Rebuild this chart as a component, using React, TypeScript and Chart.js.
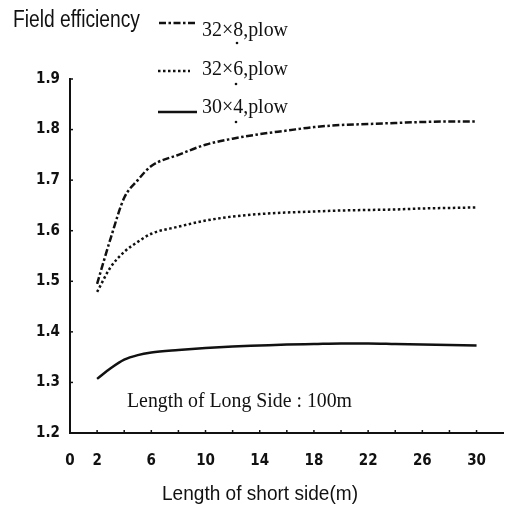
import { useEffect, useRef } from "react";
import { Chart, registerables } from "chart.js";

Chart.register(...registerables);

// ---- data ----
const shortSide = [2, 3, 4, 5, 6, 8, 10, 12, 14, 16, 18, 20, 22, 24, 26, 28, 30];
const eff32x8 = [1.495, 1.585, 1.665, 1.7, 1.728, 1.75, 1.77, 1.782, 1.791, 1.798, 1.805, 1.809, 1.811, 1.813, 1.815, 1.816, 1.816];
const eff32x6 = [1.479, 1.528, 1.558, 1.578, 1.594, 1.608, 1.62, 1.628, 1.633, 1.636, 1.638, 1.64, 1.641, 1.642, 1.644, 1.645, 1.646];
const eff30x4 = [1.307, 1.328, 1.345, 1.354, 1.359, 1.364, 1.368, 1.371, 1.373, 1.375, 1.376, 1.377, 1.377, 1.376, 1.375, 1.374, 1.373];
const seriesNames = ["32×8,plow", "32×6,plow", "30×4,plow"];
const xTickLabels = [0, 2, 6, 10, 14, 18, 22, 26, 30];
const xMinorTicks = [2, 4, 6, 8, 10, 12, 14, 16, 18, 20, 22, 24, 26, 28, 30];
const yTicks = [1.2, 1.3, 1.4, 1.5, 1.6, 1.7, 1.8, 1.9];
const yAxisTitle = "Field efficiency";
const xAxisTitle = "Length of short side(m)";
const noteText = "Length of Long Side : 100m";

const INK = "#111";
const DASHES = [[7, 2.5, 2.5, 2.5], [2.5, 2.5], []];
const TICK_FONT = { family: "'Liberation Sans Narrow', 'DejaVu Sans Condensed', sans-serif", size: 15, weight: "bold" as const };

function fitText(ctx: CanvasRenderingContext2D, text: string, x: number, y: number, font: string, width: number) {
  ctx.save();
  ctx.font = font;
  ctx.textAlign = "left";
  ctx.textBaseline = "alphabetic";
  ctx.fillStyle = INK;
  const w = ctx.measureText(text).width;
  ctx.translate(x, y);
  ctx.scale(width / w, 1);
  ctx.fillText(text, 0, 0);
  ctx.restore();
}

const decor = {
  id: "decor",
  afterDraw(chart: any) {
    const { ctx, scales } = chart;
    const xs = scales.x;
    const ys = scales.y;
    ctx.save();
    ctx.strokeStyle = INK;
    ctx.lineWidth = 1.5;
    // inward tick marks
    const left = xs.left;
    const bottom = ys.bottom;
    yTicks.forEach((v) => {
      const py = ys.getPixelForValue(v);
      ctx.beginPath();
      ctx.moveTo(left, py);
      ctx.lineTo(left + 3, py);
      ctx.stroke();
    });
    xMinorTicks.forEach((v) => {
      const px = xs.getPixelForValue(v);
      ctx.beginPath();
      ctx.moveTo(px, bottom);
      ctx.lineTo(px, bottom - 3);
      ctx.stroke();
    });

    // titles
    fitText(ctx, yAxisTitle, 13, 27, "23px 'Liberation Sans', Arial, sans-serif", 127);
    fitText(ctx, xAxisTitle, 162, 500, "21px 'Liberation Sans', Arial, sans-serif", 196);
    fitText(ctx, noteText, 127, 407, "21px 'Liberation Serif', 'Times New Roman', serif", 225);

    // legend
    const rows = [
      { y: 23, x0: 159, x1: 195, tb: 36 },
      { y: 71, x0: 158, x1: 190, tb: 75 },
      { y: 112, x0: 158, x1: 197, tb: 113 },
    ];
    rows.forEach((r, i) => {
      ctx.save();
      ctx.lineWidth = 2.5;
      ctx.setLineDash(DASHES[i]);
      ctx.beginPath();
      ctx.moveTo(r.x0, r.y);
      ctx.lineTo(r.x1, r.y);
      ctx.stroke();
      ctx.restore();
      fitText(ctx, seriesNames[i], 202, r.tb, "21px 'Liberation Serif', 'Times New Roman', serif", 86);
    });

    // small scan dots
    ctx.fillStyle = INK;
    [[237, 43], [236, 84], [236, 122]].forEach(([px, py]) => {
      ctx.beginPath();
      ctx.arc(px, py, 1.3, 0, Math.PI * 2);
      ctx.fill();
    });
    ctx.restore();
  },
};

export default function App() {
  const ref = useRef<HTMLCanvasElement | null>(null);

  useEffect(() => {
    if (!ref.current) return;
    const series = [eff32x8, eff32x6, eff30x4];
    const chart = new Chart(ref.current, {
      type: "line",
      data: {
        datasets: series.map((vals, i) => ({
          label: seriesNames[i],
          data: shortSide.map((x, j) => ({ x, y: vals[j] })),
          borderColor: INK,
          borderWidth: 2.5,
          borderDash: DASHES[i],
          pointRadius: 0,
          fill: false,
          cubicInterpolationMode: "monotone" as const,
        })),
      },
      options: {
        responsive: false,
        animation: false,
        devicePixelRatio: 1,
        layout: { padding: { left: 0, top: 79, right: 1, bottom: 0 } },
        plugins: { legend: { display: false }, tooltip: { enabled: false } },
        scales: {
          x: {
            type: "linear",
            min: 0,
            max: 32,
            afterBuildTicks: (s: any) => {
              s.ticks = xTickLabels.map((v) => ({ value: v }));
            },
            afterFit: (s: any) => {
              s.height = 75;
            },
            ticks: {
              autoSkip: false,
              maxRotation: 0,
              padding: 19,
              color: INK,
              font: TICK_FONT,
            },
            grid: { display: true, drawOnChartArea: false, drawTicks: false },
            border: { display: true, color: INK, width: 2 },
          },
          y: {
            type: "linear",
            min: 1.2,
            max: 1.9,
            afterBuildTicks: (s: any) => {
              s.ticks = yTicks.map((v) => ({ value: v }));
            },
            afterFit: (s: any) => {
              s.width = 70;
            },
            ticks: {
              padding: 10,
              color: INK,
              callback: (v: any) => Number(v).toFixed(1),
              font: TICK_FONT,
            },
            grid: { display: true, drawOnChartArea: false, drawTicks: false },
            border: { display: true, color: INK, width: 2 },
          },
        },
      },
      plugins: [decor],
    });
    return () => chart.destroy();
  }, []);

  return (
    <div style={{ position: "fixed", left: 0, top: 0, width: 505, height: 508, background: "#fff" }}>
      <canvas ref={ref} width={505} height={508} style={{ display: "block" }} />
    </div>
  );
}
